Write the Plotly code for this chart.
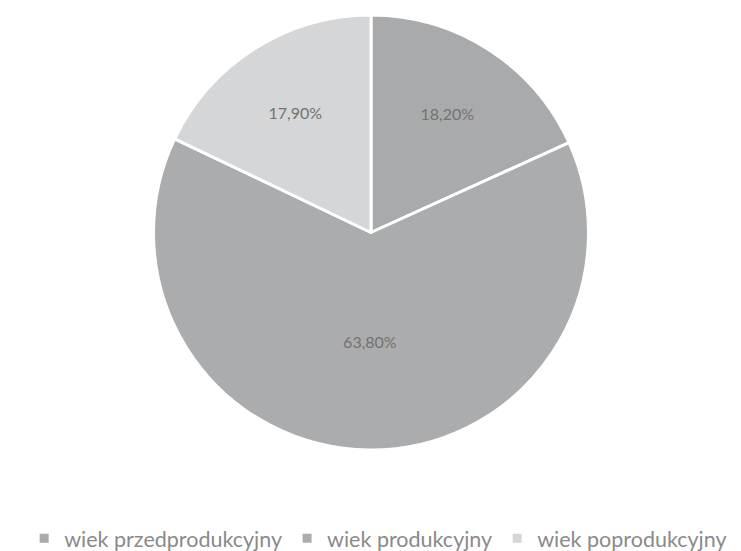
import plotly.graph_objects as go

labels = ["wiek przedprodukcyjny", "wiek produkcyjny", "wiek poprodukcyjny"]
values = [18.20, 63.80, 17.90]
value_text = ["18,20%", "63,80%", "17,90%"]
colors = ["#a9aaab", "#abacad", "#d5d6d7"]

W, H = 733, 543

fig = go.Figure(go.Pie(
    labels=labels,
    values=values,
    text=value_text,
    textinfo="text",
    textposition="inside",
    insidetextorientation="horizontal",
    sort=False,
    direction="clockwise",
    rotation=0,
    marker=dict(colors=colors, line=dict(color="white", width=3)),
    textfont=dict(family="Lato", size=16, color="#727272"),
    domain=dict(x=[145.5 / W, 580.5 / W], y=[1 - 442 / H, 1 - 7 / H]),
    hoverinfo="label+text",
))

fig.update_layout(
    width=W, height=H,
    margin=dict(l=0, r=0, t=0, b=0, autoexpand=False),
    paper_bgcolor="white",
    plot_bgcolor="white",
    legend=dict(
        orientation="h",
        x=0.505, xanchor="center",
        y=-0.0143, yanchor="bottom",
        font=dict(family="Lato", size=21.5, color="#8a8a8a"),
        tracegroupgap=0,
    ),
    uniformtext=dict(minsize=16, mode="show"),
)

fig.write_html("out.html")
